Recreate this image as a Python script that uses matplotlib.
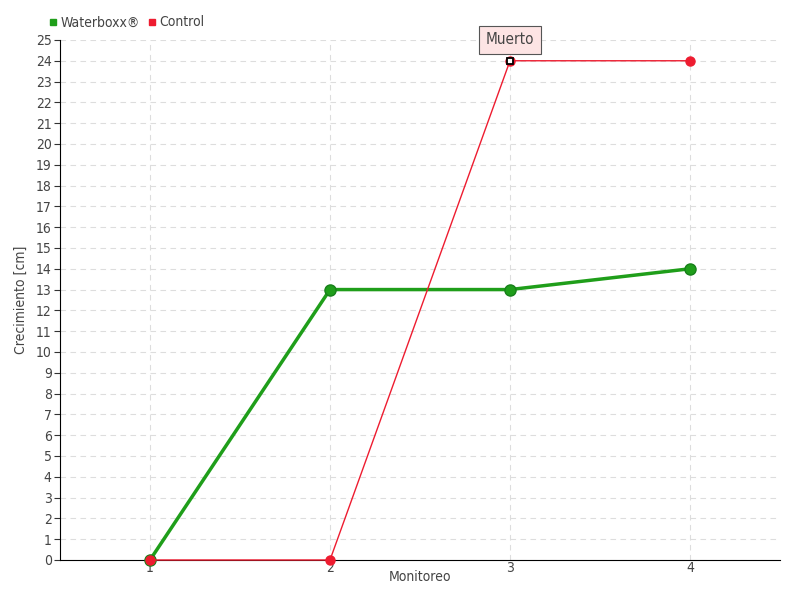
import matplotlib
matplotlib.use("Agg")
import matplotlib.pyplot as plt
from matplotlib.lines import Line2D

monitoreo = [1, 2, 3, 4]
waterboxx = [0, 13, 13, 14]
control = [0, 0, 24, 24]
y_ticks = list(range(0, 26))
note_idx = 2
note_text = "Muerto"

GREEN = "#1f9e1a"
RED = "#ee1c30"
TXT = "#444444"

plt.rcParams["font.family"] = ["DejaVu Sans"]
plt.rcParams["font.stretch"] = "condensed"

fig = plt.figure(figsize=(8, 6), dpi=100)
ax = fig.add_axes([0.075, 0.0667, 0.9, 0.8667])

ax.plot(monitoreo, waterboxx, color=GREEN, lw=2.5, marker="o", ms=8,
        mfc=GREEN, mec="#17801a", zorder=3, clip_on=False)
ax.plot(monitoreo, control, color=RED, lw=1, marker="o", ms=6.5,
        mfc=RED, mec=RED, zorder=4, clip_on=False)
# highlighted point
ax.plot(monitoreo[note_idx], control[note_idx], marker="s", ms=5, mfc="white",
        mec="black", mew=1.3, zorder=5)
ax.annotate(note_text, (monitoreo[note_idx], control[note_idx]), xytext=(0, 15),
            textcoords="offset points", ha="center", va="center", fontsize=11,
            color=TXT, zorder=6,
            bbox=dict(boxstyle="square,pad=0.45", fc="#fde4e4", ec="#555555", lw=0.8))

ax.set_xlim(0.5, 4.5)
ax.set_ylim(0, 25)
ax.set_xticks(monitoreo)
ax.set_yticks(y_ticks)
ax.tick_params(axis="both", labelsize=10, labelcolor=TXT, colors="#333333")
ax.tick_params(axis="x", length=0, pad=1)
ax.tick_params(axis="y", length=4, pad=2)
for s in ["top", "right"]:
    ax.spines[s].set_visible(False)
ax.spines["left"].set_color("black")
ax.spines["bottom"].set_color("black")
ax.grid(True, ls=(0, (5, 4)), color="#dddddd", lw=0.8)
ax.set_axisbelow(True)

ax.set_xlabel("Monitoreo", fontsize=10, color=TXT, labelpad=-4)
ax.set_ylabel("Crecimiento [cm]", fontsize=10, color=TXT, labelpad=6)

handles = [Line2D([], [], ls="", marker="s", ms=5, color=GREEN),
           Line2D([], [], ls="", marker="s", ms=5, color=RED)]
fig.legend(handles, ["Waterboxx®", "Control"], loc="upper left",
           bbox_to_anchor=(0.046, 0.995), ncol=2, frameon=False, fontsize=10,
           handlelength=0.6, handletextpad=0.2, columnspacing=0.6, labelcolor=TXT)

fig.savefig("out.png", dpi=100)
